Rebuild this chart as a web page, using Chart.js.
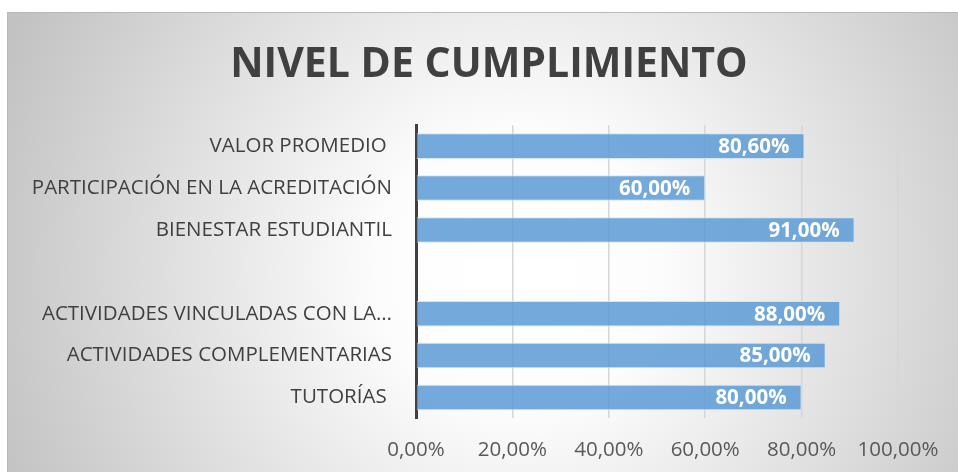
<!DOCTYPE html>
<html>
<head>
<meta charset="utf-8">
<script src="https://cdn.jsdelivr.net/npm/chart.js@4"></script>
<style>
  html, body { margin: 0; padding: 0; background: #ffffff; }
  #wrap { position: absolute; left: 0; top: 0; width: 958px; height: 472px; }
</style>
</head>
<body>
<div id="wrap"><canvas id="chart" width="958" height="472"></canvas></div>
<script>
// chart data (top to bottom as shown)
const categories = [
  'VALOR PROMEDIO ',
  'PARTICIPACIÓN EN LA ACREDITACIÓN',
  'BIENESTAR ESTUDIANTIL',
  '',
  'ACTIVIDADES VINCULADAS CON LA…',
  'ACTIVIDADES COMPLEMENTARIAS',
  'TUTORÍAS '
];
const cumplimiento = [80.6, 60, 91, null, 88, 85, 80];
const xTicks = [0, 20, 40, 60, 80, 100];

const FONT = '"Open Sans", "Liberation Sans", sans-serif';

function pct(v) {
  return v.toFixed(2).replace('.', ',') + '%';
}

// grey radial background like the office chart area
const backgroundPlugin = {
  id: 'bgBox',
  beforeDraw(chart) {
    const ctx = chart.ctx;
    ctx.save();
    const g = ctx.createRadialGradient(520, 270, 40, 520, 270, 560);
    g.addColorStop(0, '#ffffff');
    g.addColorStop(0.2, '#fcfcfc');
    g.addColorStop(1, '#c2c2c2');
    ctx.fillStyle = g;
    ctx.fillRect(7, 12, 951, 460);
    ctx.strokeStyle = '#b8b8b8';
    ctx.lineWidth = 1;
    ctx.beginPath();
    ctx.moveTo(7.5, 472);
    ctx.lineTo(7.5, 12.5);
    ctx.lineTo(958, 12.5);
    ctx.stroke();
    ctx.restore();
  }
};

// title is centred on the whole chart box, not on the padded layout
const titleShift = {
  id: 'titleShift',
  afterLayout(chart) {
    const t = chart.titleBlock;
    if (!t) return;
    t.left = 80;
    t.right = 898;
    t.width = t.right - t.left;
  }
};

// white value labels inside the end of each bar
const valueLabels = {
  id: 'valueLabels',
  afterDatasetsDraw(chart) {
    const ctx = chart.ctx;
    const meta = chart.getDatasetMeta(0);
    ctx.save();
    ctx.font = 'bold 20.5px ' + FONT;
    ctx.fillStyle = '#ffffff';
    ctx.textAlign = 'right';
    ctx.textBaseline = 'middle';
    meta.data.forEach((bar, i) => {
      const v = cumplimiento[i];
      if (v === null) return;
      ctx.fillText(pct(v), bar.x - 15, bar.y + 1);
    });
    ctx.restore();
  }
};

const chart = new Chart(document.getElementById('chart'), {
  type: 'bar',
  data: {
    labels: categories,
    datasets: [{
      data: cumplimiento,
      backgroundColor: 'rgba(91, 155, 213, 0.85)',
      borderColor: 'rgba(210, 226, 242, 0.9)',
      borderWidth: 1,
      borderSkipped: 'left',
      categoryPercentage: 1,
      barPercentage: 0.61
    }]
  },
  options: {
    indexAxis: 'y',
    responsive: false,
    animation: false,
    layout: { padding: { top: 0, left: 20, right: 60, bottom: -9 } },
    plugins: {
      legend: { display: false },
      tooltip: { enabled: false },
      title: {
        display: true,
        text: 'NIVEL DE CUMPLIMIENTO',
        color: '#404040',
        font: { family: FONT, size: 41, weight: 'bold' },
        padding: { top: 41, bottom: 35 }
      }
    },
    scales: {
      x: {
        min: 0,
        max: 100,
        afterBuildTicks(scale) {
          scale.ticks = xTicks.map(v => ({ value: v }));
        },
        ticks: {
          padding: 19,
          color: '#595959',
          font: { family: FONT, size: 20.5 },
          maxRotation: 0,
          callback: v => pct(v)
        },
        grid: { color: '#d6d6d6', lineWidth: 1.5, drawTicks: false },
        border: { display: false }
      },
      y: {
        afterFit(scale) { scale.width = 396; },
        ticks: {
          padding: 24,
          color: '#404040',
          font: { family: FONT, size: 20.5 }
        },
        grid: { display: false, drawTicks: false },
        border: { display: true, color: '#404040', width: 3 }
      }
    }
  },
  plugins: [backgroundPlugin, titleShift, valueLabels]
});
</script>
</body>
</html>
